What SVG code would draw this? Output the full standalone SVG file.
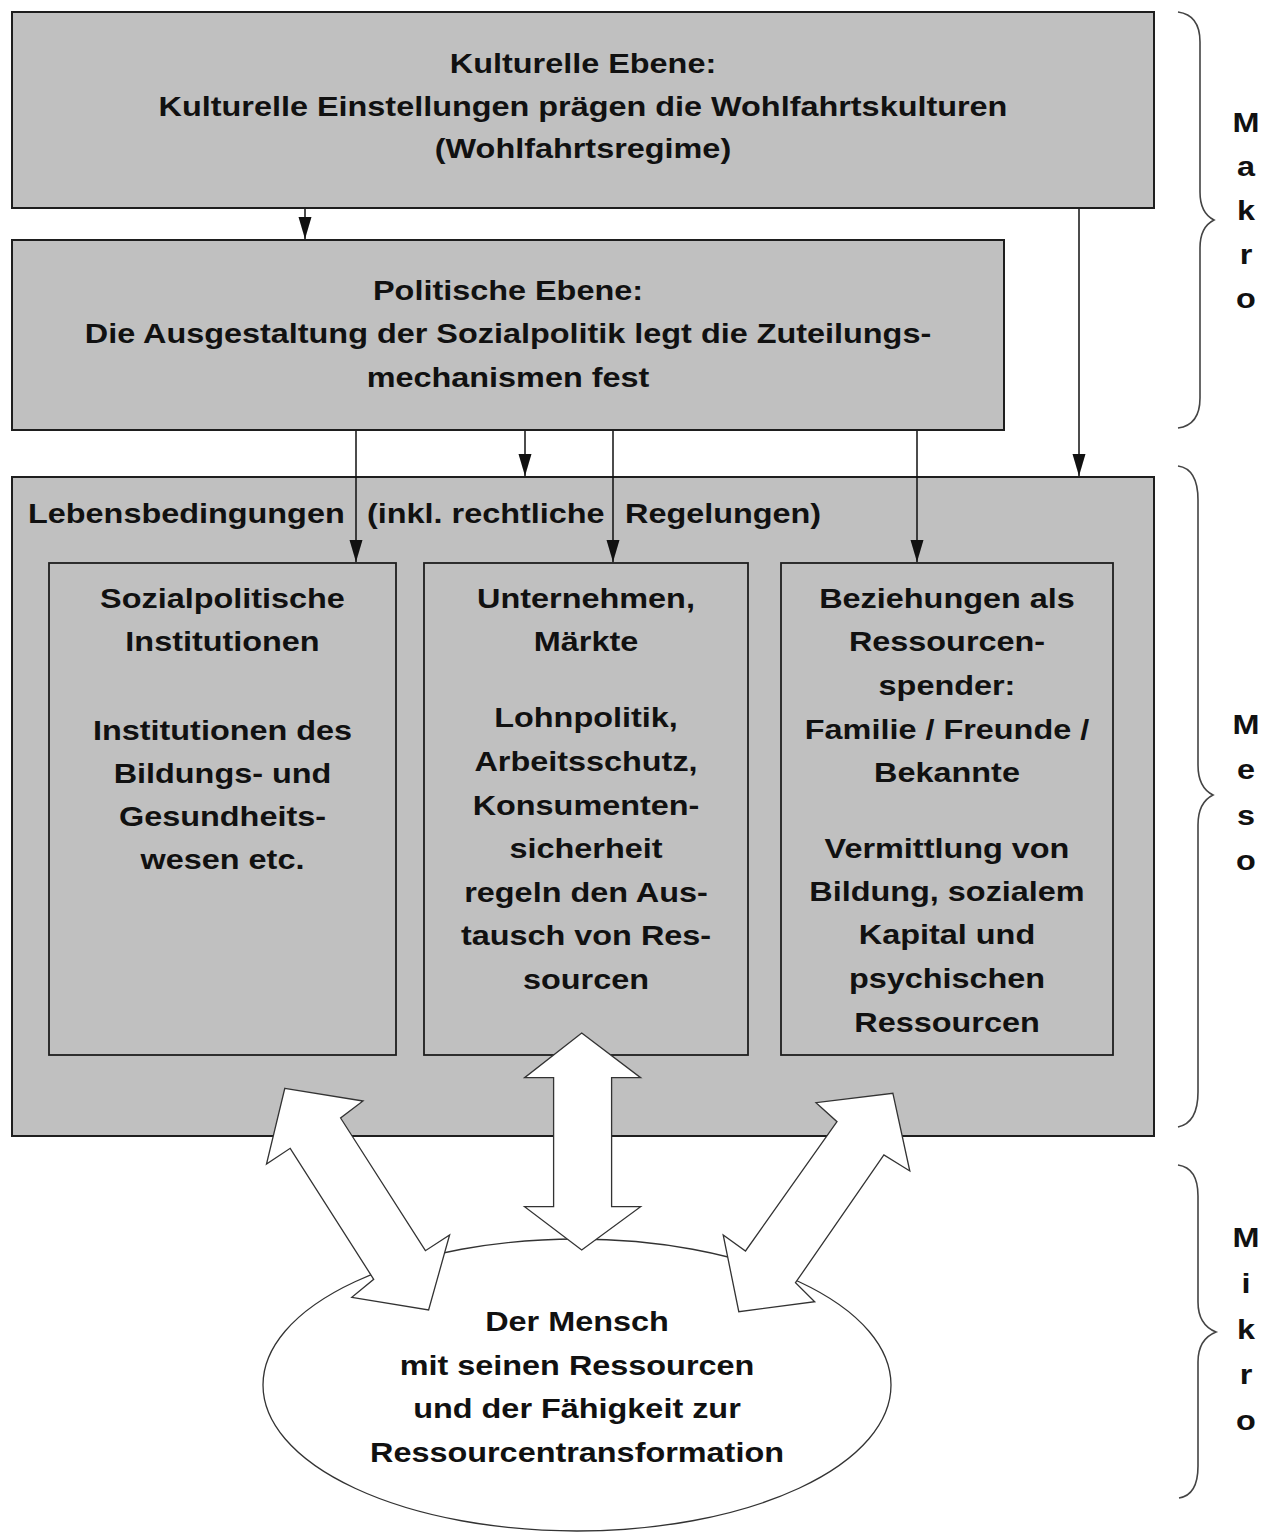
<svg xmlns="http://www.w3.org/2000/svg" width="1264" height="1532" viewBox="0 0 1264 1532">
<style>
.box{fill:#c0c0c0;stroke:#1e1e1e;stroke-width:2}
.inner{fill:#c0c0c0;stroke:#1e1e1e;stroke-width:1.8}
.t{font-family:"Liberation Sans",Arial,sans-serif;font-weight:bold;font-size:27px;fill:#111;text-anchor:middle}
.ts{font-family:"Liberation Sans",Arial,sans-serif;font-weight:bold;font-size:27px;fill:#111;text-anchor:start}
.con{stroke:#111;stroke-width:1.5;fill:none}
.brace{fill:none;stroke:#444;stroke-width:1.6}
.darrow{fill:#fff;stroke:#333;stroke-width:1.3;stroke-linejoin:miter}
</style>
<defs>
<marker id="ah" markerUnits="userSpaceOnUse" markerWidth="24" markerHeight="14" refX="22" refY="6.5" orient="auto">
<path d="M0,0 L22,6.5 L0,13 z" fill="#111"/>
</marker>
</defs>
<rect width="1264" height="1532" fill="#fff"/>

<g id="kulturelle">
<rect class="box" x="12" y="12" width="1142" height="196"/>
<text class="t" transform="matrix(1.2 0 0 1 583 0)"><tspan x="0" y="73">Kulturelle Ebene:</tspan><tspan x="0" y="116">Kulturelle Einstellungen prägen die Wohlfahrtskulturen</tspan><tspan x="0" y="158">(Wohlfahrtsregime)</tspan></text>
</g>

<g id="politische">
<rect class="box" x="12" y="240" width="992" height="190"/>
<text class="t" transform="matrix(1.2 0 0 1 508 0)"><tspan x="0" y="300">Politische Ebene:</tspan><tspan x="0" y="343">Die Ausgestaltung der Sozialpolitik legt die Zuteilungs-</tspan><tspan x="0" y="387">mechanismen fest</tspan></text>
</g>

<g id="lebensbedingungen">
<rect class="box" x="12" y="477" width="1142" height="659"/>
<text class="ts" transform="matrix(1.2 0 0 1 28 0)"><tspan x="0" y="523">Lebensbedingungen </tspan><tspan x="282.5" y="523">(inkl. rechtliche </tspan><tspan x="497.5" y="523">Regelungen)</tspan></text>
</g>

<g id="sozialpolitische">
<rect class="inner" x="49" y="563" width="347" height="492"/>
<text class="t" transform="matrix(1.2 0 0 1 222.5 0)"><tspan x="0" y="608">Sozialpolitische</tspan><tspan x="0" y="651">Institutionen</tspan><tspan x="0" y="740">Institutionen des</tspan><tspan x="0" y="783">Bildungs- und</tspan><tspan x="0" y="826">Gesundheits-</tspan><tspan x="0" y="869">wesen etc.</tspan></text>
</g>

<g id="unternehmen">
<rect class="inner" x="424" y="563" width="324" height="492"/>
<text class="t" transform="matrix(1.2 0 0 1 586 0)"><tspan x="0" y="608">Unternehmen,</tspan><tspan x="0" y="651">Märkte</tspan><tspan x="0" y="727">Lohnpolitik,</tspan><tspan x="0" y="771">Arbeitsschutz,</tspan><tspan x="0" y="815">Konsumenten-</tspan><tspan x="0" y="858">sicherheit</tspan><tspan x="0" y="902">regeln den Aus-</tspan><tspan x="0" y="945">tausch von Res-</tspan><tspan x="0" y="989">sourcen</tspan></text>
</g>

<g id="beziehungen">
<rect class="inner" x="781" y="563" width="332" height="492"/>
<text class="t" transform="matrix(1.2 0 0 1 947 0)"><tspan x="0" y="608">Beziehungen als</tspan><tspan x="0" y="651">Ressourcen-</tspan><tspan x="0" y="695">spender:</tspan><tspan x="0" y="739">Familie / Freunde /</tspan><tspan x="0" y="782">Bekannte</tspan><tspan x="0" y="858">Vermittlung von</tspan><tspan x="0" y="901">Bildung, sozialem</tspan><tspan x="0" y="944">Kapital und</tspan><tspan x="0" y="988">psychischen</tspan><tspan x="0" y="1032">Ressourcen</tspan></text>
</g>

<g id="mensch">
<ellipse cx="577" cy="1385" rx="314" ry="146" fill="#fff" stroke="#333" stroke-width="1.3"/>
<text class="t" transform="matrix(1.2 0 0 1 577 0)"><tspan x="0" y="1331">Der Mensch</tspan><tspan x="0" y="1375">mit seinen Ressourcen</tspan><tspan x="0" y="1418">und der Fähigkeit zur</tspan><tspan x="0" y="1462">Ressourcentransformation</tspan></text>
</g>

<g id="connectors">
<line class="con" x1="305" y1="209" x2="305" y2="239" marker-end="url(#ah)"/>
<line class="con" x1="1079" y1="209" x2="1079" y2="476" marker-end="url(#ah)"/>
<line class="con" x1="356" y1="431" x2="356" y2="562" marker-end="url(#ah)"/>
<line class="con" x1="525" y1="431" x2="525" y2="476" marker-end="url(#ah)"/>
<line class="con" x1="613" y1="431" x2="613" y2="562" marker-end="url(#ah)"/>
<line class="con" x1="917" y1="431" x2="917" y2="562" marker-end="url(#ah)"/>
<polygon class="darrow" points="284.8,1088.3 363,1101 340.6,1118 425.4,1250.7 449.6,1235 428.6,1310 351.8,1297.3 373.7,1279.3 290.2,1148.3 266.5,1164"/>
<polygon class="darrow" points="581.7,1033 640.6,1077.7 611.6,1077.7 611.6,1206.7 640.6,1206.7 581.7,1250 524.6,1206.7 553.6,1206.7 553.6,1077.7 524.6,1077.7"/>
<polygon class="darrow" points="892.9,1093.3 909.8,1171 883.9,1155 795.5,1282.7 814.7,1301.7 738.8,1311.7 723.2,1235 745.5,1251 837,1121.7 816,1102.7"/>
</g>

<g id="makro">
<path class="brace" d="M1178,12 C1193,14 1200,24 1200,42 L1200,192 C1200,208 1206,216 1214,220 C1206,224 1200,232 1200,248 L1200,398 C1200,416 1193,426 1178,428"/>
<text class="t" transform="matrix(1.2 0 0 1 1246 0)"><tspan x="0" y="132">M</tspan><tspan x="0" y="176">a</tspan><tspan x="0" y="220">k</tspan><tspan x="0" y="264">r</tspan><tspan x="0" y="308">o</tspan></text>
</g>

<g id="meso">
<path class="brace" d="M1178,466 C1192,468 1198,480 1198,500 L1198,765 C1198,782 1205,791 1213,795 C1205,799 1198,808 1198,825 L1198,1092 C1198,1112 1192,1124 1178,1127"/>
<text class="t" transform="matrix(1.2 0 0 1 1246 0)"><tspan x="0" y="734">M</tspan><tspan x="0" y="779">e</tspan><tspan x="0" y="825">s</tspan><tspan x="0" y="870">o</tspan></text>
</g>

<g id="mikro">
<path class="brace" d="M1178,1165 C1192,1167 1198,1178 1198,1196 L1198,1302 C1198,1320 1206,1328 1216,1332 C1206,1336 1198,1344 1198,1362 L1198,1466 C1198,1486 1192,1496 1179,1498"/>
<text class="t" transform="matrix(1.2 0 0 1 1246 0)"><tspan x="0" y="1247">M</tspan><tspan x="0" y="1293">i</tspan><tspan x="0" y="1339">k</tspan><tspan x="0" y="1384">r</tspan><tspan x="0" y="1430">o</tspan></text>
</g>
</svg>
